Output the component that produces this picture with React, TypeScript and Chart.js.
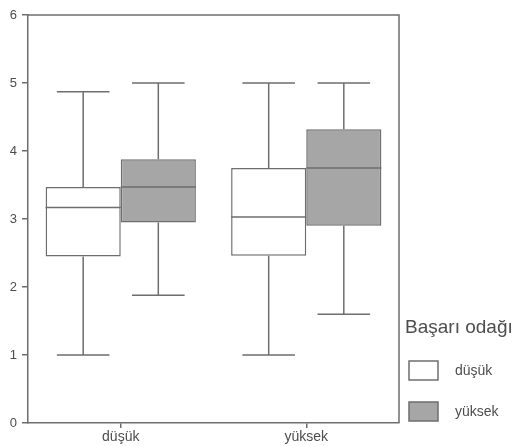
import React, { useEffect, useRef } from "react";
import { Chart, registerables } from "chart.js";

Chart.register(...registerables);

const categories = ["düşük", "yüksek"];
const seriesNames = ["düşük", "yüksek"];
const legendTitle = "Başarı odağı";
const yTicks = [0, 1, 2, 3, 4, 5, 6];

// düşük series
const dusukMin = [1.0, 1.0];
const dusukQ1 = [2.45, 2.46];
const dusukMedian = [3.17, 3.03];
const dusukQ3 = [3.47, 3.75];
const dusukMax = [4.87, 5.0];

// yüksek series
const yuksekMin = [1.88, 1.6];
const yuksekQ1 = [2.95, 2.9];
const yuksekMedian = [3.47, 3.75];
const yuksekQ3 = [3.88, 4.32];
const yuksekMax = [5.0, 5.0];

const stats = [
  { min: dusukMin, q1: dusukQ1, med: dusukMedian, q3: dusukQ3, max: dusukMax },
  { min: yuksekMin, q1: yuksekQ1, med: yuksekMedian, q3: yuksekQ3, max: yuksekMax },
];

const LINE = "#6e6e6e";
const TEXT = "#4d4d4d";
const FONT = "'Liberation Sans', Arial, sans-serif";

const whiskerPlugin = {
  id: "whiskers",
  afterDatasetsDraw(chart: any) {
    const ctx = chart.ctx;
    const ys = chart.scales.y;
    ctx.save();
    ctx.strokeStyle = LINE;
    ctx.lineWidth = 1.5;
    stats.forEach((s, di) => {
      const meta = chart.getDatasetMeta(di);
      meta.data.forEach((bar: any, i: number) => {
        const { x, width } = bar.getProps(["x", "width"], true);
        const cap = width * 0.7;
        const yMin = ys.getPixelForValue(s.min[i]);
        const yMax = ys.getPixelForValue(s.max[i]);
        const yQ1 = ys.getPixelForValue(s.q1[i]);
        const yQ3 = ys.getPixelForValue(s.q3[i]);
        const yMed = ys.getPixelForValue(s.med[i]);
        ctx.beginPath();
        ctx.moveTo(x, yQ3);
        ctx.lineTo(x, yMax);
        ctx.moveTo(x - cap / 2, yMax);
        ctx.lineTo(x + cap / 2, yMax);
        ctx.moveTo(x, yQ1);
        ctx.lineTo(x, yMin);
        ctx.moveTo(x - cap / 2, yMin);
        ctx.lineTo(x + cap / 2, yMin);
        ctx.moveTo(x - width / 2, yMed);
        ctx.lineTo(x + width / 2, yMed);
        ctx.stroke();
      });
    });
    ctx.restore();
  },
  afterDraw(chart: any) {
    const ctx = chart.ctx;
    const a = chart.chartArea;
    ctx.save();
    ctx.strokeStyle = LINE;
    ctx.lineWidth = 1.5;
    ctx.beginPath();
    ctx.moveTo(a.left, a.top);
    ctx.lineTo(a.right, a.top);
    ctx.lineTo(a.right, a.bottom);
    ctx.stroke();

    // legend
    const lx = a.right + 6;
    ctx.fillStyle = TEXT;
    ctx.font = `19px ${FONT}`;
    ctx.textAlign = "left";
    ctx.textBaseline = "alphabetic";
    ctx.fillText(legendTitle, lx, 333);
    chart.data.datasets.forEach((ds: any, i: number) => {
      const by = 361 + i * 41;
      ctx.fillStyle = ds.backgroundColor;
      ctx.fillRect(a.right + 10, by, 29, 19);
      ctx.strokeStyle = LINE;
      ctx.lineWidth = 1.5;
      ctx.strokeRect(a.right + 10, by, 29, 19);
      ctx.fillStyle = TEXT;
      ctx.font = `14px ${FONT}`;
      ctx.textBaseline = "middle";
      ctx.fillText(ds.label, a.right + 56, by + 10);
    });
    ctx.restore();
  },
};

export default function App() {
  const ref = useRef<HTMLCanvasElement | null>(null);
  useEffect(() => {
    document.body.style.margin = "0";
    const chart = new Chart(ref.current as HTMLCanvasElement, {
      type: "bar",
      data: {
        labels: categories,
        datasets: stats.map((s, di) => ({
          label: seriesNames[di],
          data: s.q1.map((v, i) => [v, s.q3[i]]),
          backgroundColor: di === 0 ? "#ffffff" : "#a6a6a6",
          borderColor: LINE,
          borderWidth: 1.5,
          borderSkipped: false,
          barPercentage: 1,
          categoryPercentage: 0.81,
        })) as any,
      },
      options: {
        responsive: false,
        animation: false,
        devicePixelRatio: 1,
        layout: { padding: { left: 0, top: 15, right: 115, bottom: 0 } },
        plugins: { legend: { display: false }, tooltip: { enabled: false } },
        scales: {
          x: {
            type: "category",
            offset: true,
            grid: { drawOnChartArea: false, offset: false, tickLength: 5, color: LINE, lineWidth: 1.5 },
            border: { display: true, color: LINE, width: 1.5 },
            ticks: { color: TEXT, font: { family: FONT, size: 14 }, padding: 1, maxRotation: 0 },
            afterFit: (s: any) => {
              s.height = 23;
            },
          },
          y: {
            min: 0,
            max: 6,
            afterBuildTicks: (s: any) => {
              s.ticks = yTicks.map((v) => ({ value: v }));
            },
            grid: { drawOnChartArea: false, tickLength: 6, color: LINE, lineWidth: 1.5 },
            border: { display: true, color: LINE, width: 1.5 },
            ticks: { color: TEXT, font: { family: FONT, size: 13 }, padding: 5 },
            afterFit: (s: any) => {
              s.width = 28;
            },
          },
        },
      },
      plugins: [whiskerPlugin],
    });
    return () => chart.destroy();
  }, []);
  return (
    <div style={{ width: 514, height: 446, background: "#fff" }}>
      <canvas ref={ref} width={514} height={446} />
    </div>
  );
}
